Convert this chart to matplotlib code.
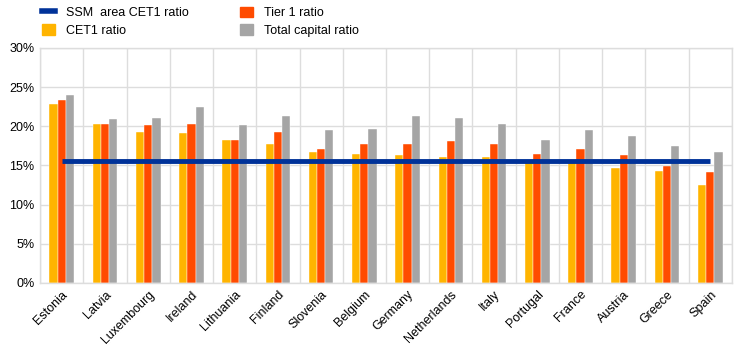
import matplotlib
matplotlib.use("Agg")
import matplotlib.pyplot as plt
import numpy as np
from matplotlib.lines import Line2D
from matplotlib.patches import Patch

plt.rcParams["font.family"] = ["Liberation Sans", "DejaVu Sans"]

countries = ["Estonia", "Latvia", "Luxembourg", "Ireland", "Lithuania", "Finland",
             "Slovenia", "Belgium", "Germany", "Netherlands", "Italy", "Portugal",
             "France", "Austria", "Greece", "Spain"]
cet1 = [22.9, 20.3, 19.3, 19.1, 18.3, 17.7, 16.7, 16.5, 16.3, 16.1, 16.1, 15.7,
        15.5, 14.7, 14.3, 12.5]
tier1 = [23.3, 20.3, 20.1, 20.3, 18.3, 19.3, 17.1, 17.7, 17.7, 18.1, 17.7, 16.5,
         17.1, 16.3, 14.9, 14.1]
total = [24.0, 20.9, 21.1, 22.5, 20.1, 21.3, 19.5, 19.7, 21.3, 21.1, 20.3, 18.3,
         19.5, 18.7, 17.5, 16.7]
ssm_cet1 = 15.6

YELLOW = "#FFB400"
ORANGE = "#FF4B00"
GREY = "#A5A5A5"
BLUE = "#003299"
GRID = "#DDDDDD"

fig = plt.figure(figsize=(7.43, 3.55), dpi=100)
ax = fig.add_axes([0.054, 0.203, 0.931, 0.662])

x = np.arange(len(countries))
w = 0.19
ax.bar(x - w, cet1, w, color=YELLOW, edgecolor="white", linewidth=0.3, zorder=2)
ax.bar(x, tier1, w, color=ORANGE, edgecolor="white", linewidth=0.3, zorder=2)
ax.bar(x + w, total, w, color=GREY, edgecolor="white", linewidth=0.3, zorder=2)
ax.plot([x[0], x[-1]], [ssm_cet1, ssm_cet1], color=BLUE, lw=3.5, zorder=3,
        solid_capstyle="butt")

ax.set_xlim(-0.5, len(countries) - 0.5)
ax.set_ylim(0, 30)
ax.set_yticks(range(0, 31, 5))
ax.set_yticklabels([f"{v}%" for v in range(0, 31, 5)], fontsize=9)
ax.set_xticks(x)
ax.set_xticklabels(countries, rotation=45, ha="right", rotation_mode="anchor",
                   fontsize=9)
ax.tick_params(length=0, pad=4)

ax.set_xticks(np.arange(-0.5, len(countries)), minor=True)
ax.tick_params(which="minor", length=0)
ax.grid(axis="y", which="major", color=GRID, lw=1, zorder=0)
ax.grid(axis="x", which="minor", color=GRID, lw=1, zorder=0)
ax.grid(axis="x", which="major", visible=False)
for s in ["top", "right", "left", "bottom"]:
    ax.spines[s].set_color(GRID)
    ax.spines[s].set_linewidth(1)

handles = [Line2D([0], [0], color=BLUE, lw=4),
           Patch(color=YELLOW),
           Patch(color=ORANGE),
           Patch(color=GREY)]
labels = ["SSM  area CET1 ratio", "CET1 ratio", "Tier 1 ratio", "Total capital ratio"]
fig.legend(handles, labels, ncol=2, loc="upper left", bbox_to_anchor=(0.042, 1.013),
           frameon=False, fontsize=9, handlelength=1.0, handleheight=0.9,
           columnspacing=4.1, labelspacing=0.4, handletextpad=0.9)

fig.savefig("out.png", dpi=100)
